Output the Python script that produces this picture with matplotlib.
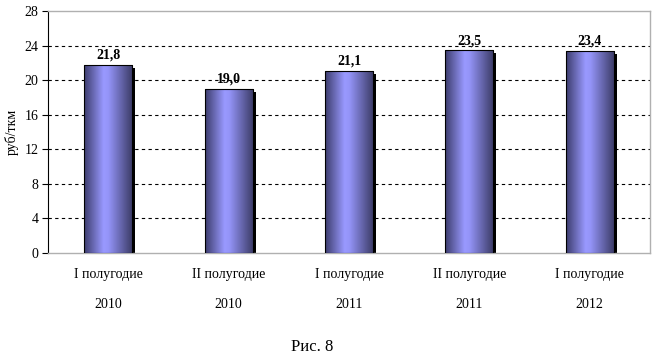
import matplotlib
matplotlib.use("Agg")
import matplotlib.pyplot as plt
import matplotlib.transforms as mtransforms
from matplotlib.patches import Rectangle
from matplotlib.colors import LinearSegmentedColormap
import numpy as np

categories = ["I полугодие\n\n2010", "II полугодие\n\n2010", "I полугодие\n\n2011",
              "II полугодие\n\n2011", "I полугодие\n\n2012"]
values = [21.8, 19.0, 21.1, 23.5, 23.4]
value_labels = ["21,8", "19,0", "21,1", "23,5", "23,4"]
yticks = [0, 4, 8, 12, 16, 20, 24, 28]
ylabel = "руб/ткм"
caption = "Рис. 8"

plt.rcParams['font.family'] = ['Liberation Serif', 'DejaVu Serif']

fig = plt.figure(figsize=(6.59, 3.61), dpi=100)
ax = fig.add_axes([48/659, 1-253/361, (650-48)/659, (253-11)/361])

x = np.arange(len(values))
width = 0.4
cmap = LinearSegmentedColormap.from_list("bar", [
    (0.0, "#3c3c6c"), (0.4, "#9999ff"), (0.5, "#9494f8"), (1.0, "#3a3a64")])
grad = np.linspace(0, 1, 256).reshape(1, -1)

bars = ax.bar(x, values, width=width, color="none", edgecolor="black", linewidth=0.8, zorder=4)
for b in bars:
    bx, by = b.get_x(), b.get_y()
    bw, bh = b.get_width(), b.get_height()
    shadow_tr = ax.transData + mtransforms.ScaledTranslation(3/100, -3/100, fig.dpi_scale_trans)
    sh = Rectangle((bx, by), bw, bh, facecolor="black", edgecolor="none",
                   transform=shadow_tr, zorder=2)
    ax.add_patch(sh)
    im = ax.imshow(grad, cmap=cmap, aspect="auto", extent=(bx, bx + bw, by, by + bh),
                   zorder=3, interpolation="bilinear")
    im.set_clip_path(b)

for xi, v, lab in zip(x, values, value_labels):
    ax.annotate(lab, (xi, v), xytext=(0, 2), textcoords="offset points",
                ha="center", va="bottom", fontsize=10, fontweight="bold", zorder=5)

ax.set_xlim(-0.5, len(values) - 0.5)
ax.set_ylim(0, 28)
ax.set_yticks(yticks)
ax.set_yticklabels([str(t) for t in yticks], fontsize=10)
ax.set_xticks(x)
ax.set_xticklabels(categories, fontsize=10, linespacing=1.2)
ax.tick_params(axis="x", length=0, pad=11)
ax.tick_params(axis="y", direction="out", length=4, width=0.8, pad=3)
ax.set_ylabel(ylabel, fontsize=10)
ax.yaxis.set_label_coords(-29/602, 0.5)

for t in yticks[1:-1]:
    ax.axhline(t, color="black", linestyle=(0, (3, 3)), linewidth=0.8, zorder=1)

ax.spines["left"].set_color("black")
ax.spines["left"].set_linewidth(0.8)
for s in ["top", "right", "bottom"]:
    ax.spines[s].set_color("#b0b0b0")
    ax.spines[s].set_linewidth(1.0)

fig.text(312/659, 1-347/361, caption, ha="center", va="center", fontsize=12)

fig.savefig("out.png", dpi=100)
